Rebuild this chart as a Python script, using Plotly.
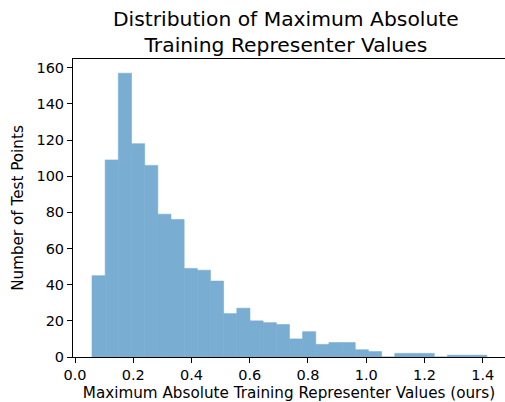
import plotly.graph_objects as go

# Histogram data (30 bins)
bin_start = 0.0584
bin_width = 0.0452
counts = [45, 109, 157, 118, 106, 79, 76, 49, 48, 42,
          24, 27, 20, 19, 18, 10, 14, 7, 8, 8,
          4, 3, 0, 2, 2, 2, 0, 1, 1, 1]
x_ticks = [0.0, 0.2, 0.4, 0.6, 0.8, 1.0, 1.2, 1.4]
y_ticks = [0, 20, 40, 60, 80, 100, 120, 140, 160]

centers = [bin_start + bin_width * (i + 0.5) for i in range(len(counts))]

FONT = "DejaVu Sans"
BAR = "rgb(121,173,210)"
fig = go.Figure()
fig.add_trace(go.Bar(
    x=centers, y=counts, width=[bin_width] * len(counts),
    marker=dict(color=BAR, line=dict(width=0.6, color=BAR)),
    hoverinfo="x+y",
))

fig.update_layout(
    width=505, height=402,
    margin=dict(l=73, r=0, t=59, b=45),
    paper_bgcolor="white", plot_bgcolor="white",
    font=dict(family=FONT, size=14.5, color="black"),
    showlegend=False,
    title=dict(
        text="Distribution of Maximum Absolute<br>Training Representer Values",
        font=dict(family=FONT, size=20.3, color="black"),
        x=0.566, xref="container", xanchor="center",
        y=0.936, yref="container", yanchor="top",
    ),
    xaxis=dict(
        range=[-0.0069, 1.4766],
        tickvals=x_ticks, ticktext=[f"{v:.1f}" for v in x_ticks],
        ticks="outside", ticklen=5, tickwidth=1, tickcolor="black",
        tickfont=dict(family=FONT, size=14.5),
        showline=True, linecolor="black", linewidth=1, mirror=True,
        showgrid=False, zeroline=False,
        title=dict(text="Maximum Absolute Training Representer Values (ours)",
                   font=dict(family=FONT, size=15.2), standoff=9),
        automargin=False,
    ),
    yaxis=dict(
        range=[0, 164.85],
        tickvals=y_ticks,
        ticks="outside", ticklen=5, tickwidth=1, tickcolor="black",
        tickfont=dict(family=FONT, size=14.5),
        showline=True, linecolor="black", linewidth=1, mirror=False,
        showgrid=False, zeroline=False,
        title=dict(text="Number of Test Points",
                   font=dict(family=FONT, size=15.2), standoff=9),
        automargin=False,
    ),
)

fig.write_html("out.html")
